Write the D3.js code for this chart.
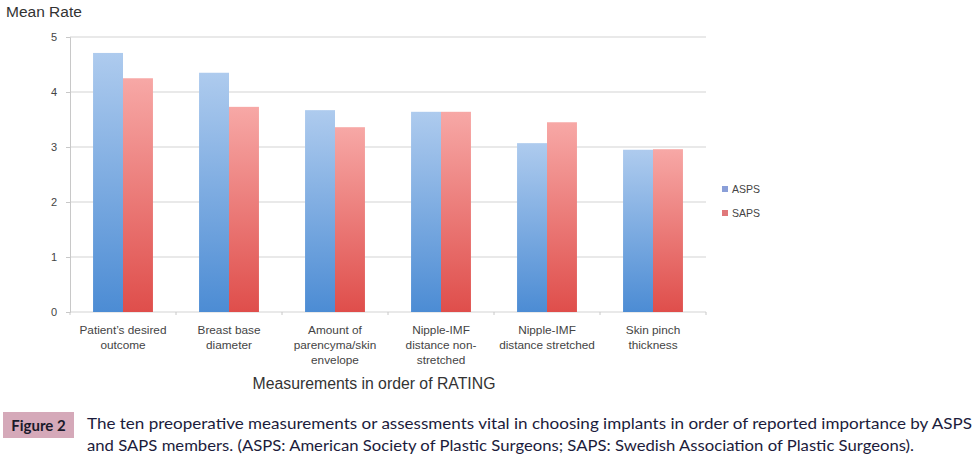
<!DOCTYPE html>
<html>
<head>
<meta charset="utf-8">
<script src="https://cdnjs.cloudflare.com/ajax/libs/d3/7.8.5/d3.min.js"></script>
<style>
  body { margin: 0; background: #fff; }
  svg { display: block; }
</style>
</head>
<body>
<svg id="chart" width="977" height="454"></svg>
<script>
// data
var categories = [
    ["Patient\u2019s desired", "outcome"],
    ["Breast base", "diameter"],
    ["Amount of", "parencyma/skin", "envelope"],
    ["Nipple-IMF", "distance non-", "stretched"],
    ["Nipple-IMF", "distance stretched"],
    ["Skin pinch", "thickness"]
];
var seriesNames = ["ASPS", "SAPS"];
var asps = [4.71, 4.35, 3.67, 3.64, 3.07, 2.95];
var saps = [4.25, 3.73, 3.36, 3.64, 3.45, 2.96];
var yTicks = [0, 1, 2, 3, 4, 5];
var captionLines = [
    "The ten preoperative measurements or assessments vital in choosing implants in order of reported importance by ASPS",
    "and SAPS members. (ASPS: American Society of Plastic Surgeons; SAPS: Swedish Association of Plastic Surgeons)."
];

var svg = d3.select("#chart");
var plotL = 70, plotR = 706, plotT = 37, plotB = 312;

var keys = categories.map((c, i) => "c" + i);
var scaleX = d3.scaleBand().domain(keys).range([plotL, plotR]).paddingInner(0).paddingOuter(0);
var scaleX2 = d3.scaleBand().domain(seriesNames).range([0, scaleX.bandwidth()]).paddingInner(0).paddingOuter(0.77);
var scaleY = d3.scaleLinear().domain([0, 5]).range([plotB, plotT]);

var defs = svg.append("defs");
var grads = [
    { id: "gBlue", top: "#aecbee", bot: "#4c8cd4" },
    { id: "gRed", top: "#f7a8a6", bot: "#df4e4b" }
];
grads.forEach(function (g) {
    var lg = defs.append("linearGradient").attr("id", g.id)
        .attr("x1", 0).attr("y1", 0).attr("x2", 0).attr("y2", 1);
    lg.append("stop").attr("offset", "0%").attr("stop-color", g.top);
    lg.append("stop").attr("offset", "100%").attr("stop-color", g.bot);
});

// gridlines
svg.append("g").selectAll("line").data(yTicks).enter().append("line")
    .attr("x1", plotL).attr("x2", plotR)
    .attr("y1", d => scaleY(d)).attr("y2", d => scaleY(d))
    .attr("stroke", "#d4d4d4").attr("stroke-width", 1.2);

// y axis
var yAxis = d3.axisLeft(scaleY).tickValues(yTicks).tickSize(4).tickPadding(9).tickFormat(d3.format("d"));
var yg = svg.append("g").attr("transform", "translate(" + plotL + ",0)").call(yAxis);
yg.select(".domain").attr("stroke", "#c8c8c8");
yg.selectAll(".tick line").attr("stroke", "#c8c8c8");
yg.selectAll(".tick text").attr("fill", "#444").style("font-family", "Liberation Sans, Arial, sans-serif").style("font-size", "11px");

// x axis small ticks between categories
var xg = svg.append("g");
xg.selectAll("line").data(d3.range(categories.length + 1)).enter().append("line")
    .attr("x1", d => plotL + d * scaleX.step()).attr("x2", d => plotL + d * scaleX.step())
    .attr("y1", plotB).attr("y2", plotB + 3)
    .attr("stroke", "#c8c8c8");

// bars
var table = categories.map((c, i) => ({ key: keys[i], values: [asps[i], saps[i]] }));
var groups = svg.append("g").selectAll("g.attr").data(table).enter().append("g")
    .attr("class", "attr")
    .attr("transform", d => "translate(" + scaleX(d.key) + ",0)");
groups.selectAll("rect")
    .data(d => seriesNames.map((s, j) => ({ key: s, value: d.values[j] })))
    .enter().append("rect")
    .attr("x", d => scaleX2(d.key))
    .attr("y", d => scaleY(d.value))
    .attr("width", scaleX2.bandwidth())
    .attr("height", d => plotB - scaleY(d.value))
    .attr("fill", d => d.key === "ASPS" ? "url(#gBlue)" : "url(#gRed)");

// category labels
var lab = svg.append("g").selectAll("text").data(categories).enter().append("text")
    .attr("x", (d, i) => scaleX(keys[i]) + scaleX.bandwidth() / 2)
    .attr("y", 334)
    .attr("text-anchor", "middle")
    .attr("fill", "#444")
    .style("font-family", "Liberation Sans, Arial, sans-serif")
    .style("font-size", "11.8px");
lab.selectAll("tspan").data(d => d).enter().append("tspan")
    .attr("x", function () { return d3.select(this.parentNode).attr("x"); })
    .attr("dy", (d, i) => i === 0 ? 0 : 15)
    .text(d => d);

// axis titles
svg.append("text").attr("x", 6).attr("y", 17).text("Mean Rate")
    .attr("fill", "#333").style("font-family", "Liberation Sans, Arial, sans-serif").style("font-size", "15.5px");
svg.append("text").attr("x", 374).attr("y", 389).attr("text-anchor", "middle")
    .text("Measurements in order of RATING")
    .attr("fill", "#333").style("font-family", "Liberation Sans, Arial, sans-serif").style("font-size", "15.8px");

// legend
var colors = ["#8a9fd8", "#e0787a"];
var leg = svg.append("g").selectAll("g").data(seriesNames).enter().append("g")
    .attr("transform", (d, i) => "translate(722," + (189 + i * 24) + ")");
leg.append("rect").attr("x", 0).attr("y", -3).attr("width", 6).attr("height", 6)
    .attr("fill", (d, i) => colors[i]);
leg.append("text").attr("x", 10).attr("y", 4).text(d => d)
    .attr("fill", "#444").style("font-family", "Liberation Sans, Arial, sans-serif").style("font-size", "10.5px");

// figure caption
svg.append("rect").attr("x", 3).attr("y", 412).attr("width", 71).attr("height", 26).attr("fill", "#d5a9b9");
svg.append("text").attr("x", 38.5).attr("y", 430.5).attr("text-anchor", "middle").text("Figure 2")
    .attr("fill", "#1a1a2a").style("font-family", "Lato, sans-serif").style("font-weight", "bold").style("font-size", "15px");
svg.append("g").selectAll("text").data(captionLines).enter().append("text")
    .attr("x", 87).attr("y", (d, i) => 429 + i * 22)
    .attr("textLength", (d, i) => i === 0 ? 885 : 827)
    .attr("lengthAdjust", "spacingAndGlyphs")
    .text(d => d)
    .attr("fill", "#1c1c3c").style("font-family", "Lato, sans-serif").style("font-size", "15px");
</script>
</body>
</html>
